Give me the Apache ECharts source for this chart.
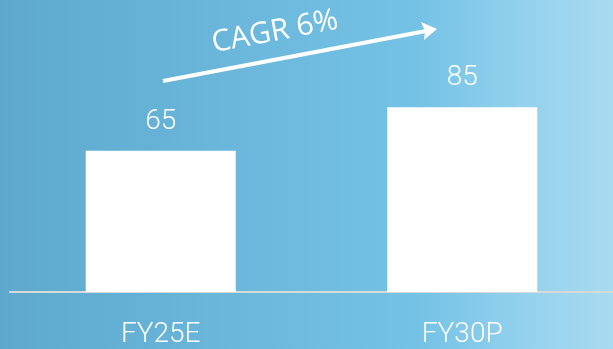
<!DOCTYPE html>
<html>
<head>
<meta charset="utf-8">
<script src="https://cdn.jsdelivr.net/npm/echarts@6/dist/echarts.min.js"></script>
<style>
html,body{margin:0;padding:0;}
#c{width:613px;height:349px;}
</style>
</head>
<body>
<div id="c"></div>
<script>
const categories = ['FY25E', 'FY30P'];
const values = [65, 85];
const cagrLabel = 'CAGR 6%';

const chart = echarts.init(document.getElementById('c'));
const option = {
  backgroundColor: {
    type: 'linear', x: 0, y: 0, x2: 1, y2: 0,
    colorStops: [
      {offset: 0, color: '#5ea8ce'},
      {offset: 0.4, color: '#6bb8dc'},
      {offset: 0.68, color: '#74c2e6'},
      {offset: 0.85, color: '#93d1ed'},
      {offset: 1, color: '#a8dbf0'}
    ]
  },
  animation: false,
  grid: {left: 10, right: 0, bottom: 55, top: 31, containLabel: false},
  xAxis: {
    type: 'category',
    data: categories,
    axisLine: {lineStyle: {color: '#d9d9d9', width: 2}},
    axisTick: {show: false},
    axisLabel: {color: '#ffffff', fontFamily: 'Roboto', fontWeight: 300, fontSize: 28, margin: 29}
  },
  yAxis: {
    type: 'value', min: 0, max: 120,
    show: false, splitLine: {show: false}
  },
  series: [{
    type: 'bar',
    data: values,
    barWidth: 150,
    itemStyle: {color: '#ffffff'},
    label: {show: true, position: 'top', distance: 15, color: '#ffffff', fontFamily: 'Roboto', fontWeight: 300, fontSize: 28}
  }],
  graphic: [
    {type: 'line', shape: {x1: 163, y1: 81, x2: 426, y2: 31}, style: {stroke: '#ffffff', lineWidth: 4}},
    {type: 'polygon', shape: {points: [[437, 29], [421, 22], [425, 31], [424, 40]]}, style: {fill: '#ffffff'}},
    {type: 'text', x: 275, y: 32, rotation: 10.75 * Math.PI / 180,
     style: {text: cagrLabel, fill: '#ffffff', fontFamily: 'Open Sans', fontWeight: 400, fontSize: 30, textAlign: 'center', textVerticalAlign: 'middle'}}
  ]
};
chart.setOption(option);
</script>
</body>
</html>
